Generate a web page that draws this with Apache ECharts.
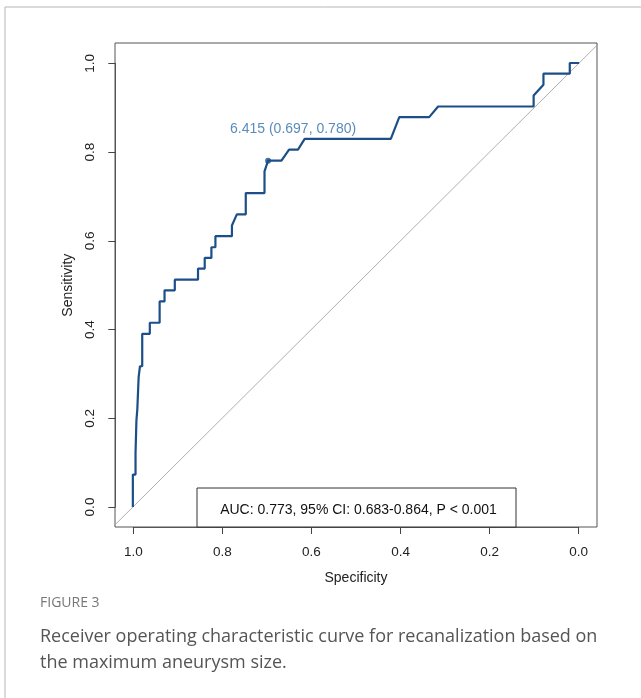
<!DOCTYPE html>
<html>
<head>
<meta charset="utf-8">
<script src="https://cdn.jsdelivr.net/npm/echarts@6/dist/echarts.min.js"></script>
<style>
html,body{margin:0;padding:0;background:#fff;}
#chart{width:641px;height:698px;}
</style>
</head>
<body>
<div id="chart"></div>
<script>
// ROC curve vertices (specificity, sensitivity)
const specificity = [1.000,1.000,0.994,0.994,0.992,0.992,0.990,0.990,0.987,0.987,0.984,0.984,0.979,0.979,0.962,0.962,0.940,0.940,0.929,0.929,0.906,0.906,0.854,0.854,0.839,0.839,0.824,0.824,0.815,0.815,0.778,0.778,0.767,0.747,0.747,0.705,0.705,0.697,0.667,0.650,0.630,0.615,0.422,0.403,0.336,0.316,0.102,0.102,0.080,0.080,0.021,0.021,0.000];
const sensitivity = [0.000,0.073,0.073,0.122,0.122,0.195,0.195,0.220,0.220,0.293,0.293,0.317,0.317,0.390,0.390,0.415,0.415,0.463,0.463,0.488,0.488,0.512,0.512,0.537,0.537,0.561,0.561,0.585,0.585,0.610,0.610,0.634,0.659,0.659,0.707,0.707,0.756,0.780,0.780,0.805,0.805,0.829,0.829,0.878,0.878,0.902,0.902,0.927,0.951,0.976,0.976,1.000,1.000];
// reference (chance) line
const diagSpec = [1.1, -0.1];
const diagSens = [-0.1, 1.1];
// best threshold
const bestThreshold = 6.415;
const bestSpec = 0.697;
const bestSens = 0.780;
// tick labels
const tickLabels = ['0.0', '0.2', '0.4', '0.6', '0.8', '1.0'];
const aucText = 'AUC: 0.773, 95% CI: 0.683-0.864, P < 0.001';
const captionTitle = 'FIGURE 3';
const captionLines = ['Receiver operating characteristic curve for recanalization based on', 'the maximum aneurysm size.'];

const rocData = specificity.map((s, i) => [s, sensitivity[i]]);
const diagData = diagSpec.map((s, i) => [s, diagSens[i]]);
const bestLabel = bestThreshold.toFixed(3) + ' (' + bestSpec.toFixed(3) + ', ' + bestSens.toFixed(3) + ')';

const FONT = '"Liberation Sans", Arial, sans-serif';
const labelStyle = {fontFamily: FONT, fontSize: 13.5, color: '#222'};
const chart = echarts.init(document.getElementById('chart'), null, {renderer: 'canvas'});
chart.setOption({
  animation: false,
  backgroundColor: '#fff',
  grid: [
    // plotting region (data range extended by 4%)
    {left: 115, right: 44, top: 43, bottom: 171, show: true, borderColor: '#555', borderWidth: 1, backgroundColor: 'transparent'},
    // axis region spanning exactly 0..1
    {left: 133.3, right: 62.3, top: 63.3, bottom: 191, show: false}
  ],
  xAxis: [
    {type: 'value', gridIndex: 0, inverse: true, min: -0.04, max: 1.04, show: false},
    {
      type: 'value', gridIndex: 1, inverse: true, min: 0, max: 1, interval: 0.2, offset: 20, position: 'bottom',
      axisLine: {show: true, onZero: false, lineStyle: {color: '#555', width: 1}},
      axisTick: {show: true, length: 7, lineStyle: {color: '#444'}},
      axisLabel: Object.assign({formatter: v => tickLabels[Math.round(v * 5)], margin: 18, showMinLabel: true, showMaxLabel: true}, labelStyle),
      splitLine: {show: false},
      name: 'Specificity', nameLocation: 'middle', nameGap: 44,
      nameTextStyle: {fontFamily: FONT, fontSize: 14, color: '#222'}
    }
  ],
  yAxis: [
    {type: 'value', gridIndex: 0, min: -0.045, max: 1.045, show: false},
    {
      type: 'value', gridIndex: 1, min: 0, max: 1, interval: 0.2, offset: 18, position: 'left',
      axisLine: {show: true, onZero: false, lineStyle: {color: '#555', width: 1}},
      axisTick: {show: true, length: 7, lineStyle: {color: '#444'}},
      axisLabel: Object.assign({formatter: v => tickLabels[Math.round(v * 5)], rotate: 90, margin: 18, showMinLabel: true, showMaxLabel: true}, labelStyle),
      splitLine: {show: false},
      name: 'Sensitivity', nameLocation: 'middle', nameGap: 31, nameRotate: 90,
      nameTextStyle: {fontFamily: FONT, fontSize: 14, color: '#222'}
    }
  ],
  series: [
    {
      type: 'line', xAxisIndex: 0, yAxisIndex: 0, data: diagData, showSymbol: false, clip: true, silent: true,
      lineStyle: {color: '#9a9a9a', width: 0.8}
    },
    {
      type: 'line', xAxisIndex: 0, yAxisIndex: 0, data: rocData, showSymbol: false, clip: true,
      lineStyle: {color: '#1c4f88', width: 2.2}
    },
    {
      type: 'scatter', xAxisIndex: 0, yAxisIndex: 0, data: [[bestSpec, bestSens]], symbolSize: 6,
      itemStyle: {color: '#1c4f88'},
      label: {show: true, position: 'top', formatter: () => bestLabel, offset: [25, -17],
        fontFamily: FONT, fontSize: 14, color: '#2f6eab'}
    }
  ],
  graphic: [
    {type: 'rect', shape: {x: 5, y: 7, width: 700, height: 720}, style: {fill: 'none', stroke: '#b5b5b5', lineWidth: 1}, silent: true, z: -1},
    {type: 'rect', shape: {x: 197, y: 488, width: 319, height: 39}, style: {fill: '#fff', stroke: '#333', lineWidth: 1}, z: 10},
    {type: 'text', x: 358.5, y: 510, style: {text: aucText, fill: '#111', font: '14px ' + FONT, textAlign: 'center', textVerticalAlign: 'middle'}, z: 11},
    {type: 'text', x: 40, y: 603, style: {text: captionTitle, fill: '#777', font: '14px "Open Sans", sans-serif', textAlign: 'left', textVerticalAlign: 'middle'}},
    {type: 'text', x: 40, y: 637, style: {text: captionLines[0], fill: '#555', font: '18px "Open Sans", sans-serif', textAlign: 'left', textVerticalAlign: 'middle'}},
    {type: 'text', x: 40, y: 663, style: {text: captionLines[1], fill: '#555', font: '18px "Open Sans", sans-serif', textAlign: 'left', textVerticalAlign: 'middle'}}
  ]
});
</script>
</body>
</html>
